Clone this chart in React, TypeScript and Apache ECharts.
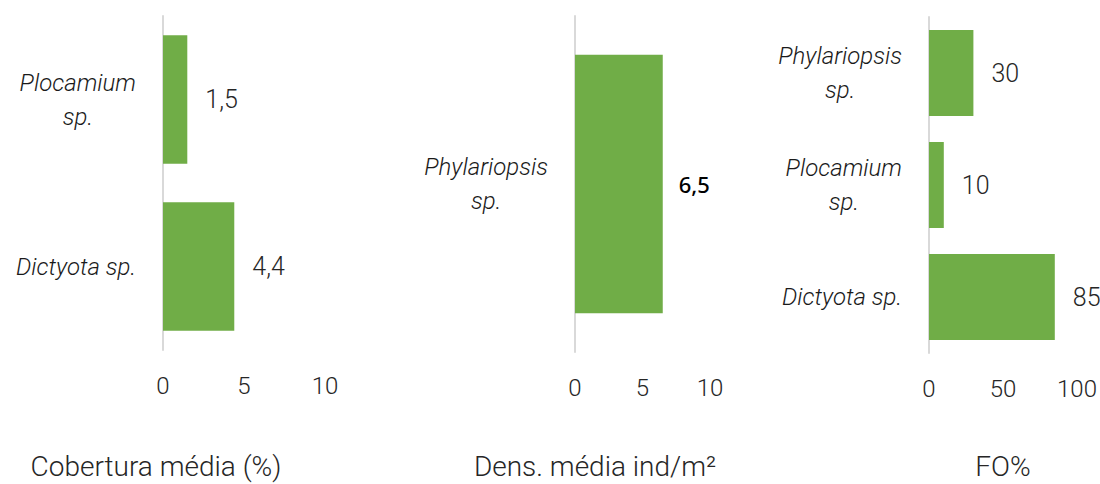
import React, { useEffect, useRef } from "react";
import * as echarts from "echarts";

const coverCategories = ["Plocamium\nsp.", "Dictyota sp."];
const coverValues = [1.5, 4.4];
const densCategories = ["Phylariopsis\nsp."];
const densValues = [6.5];
const foCategories = ["Phylariopsis\nsp.", "Plocamium\nsp.", "Dictyota sp."];
const foValues = [30, 10, 85];
const panelTitles = ["Cobertura média (%)", "Dens. média ind/m²", "FO%"];

const FONT = "Roboto";
const TEXT = "#262626";
const GREEN = "#70AD47";

export default function App() {
  const ref = useRef<HTMLDivElement>(null);
  useEffect(() => {
    if (!ref.current) return;
    const chart = echarts.init(ref.current, null, { renderer: "svg" });
    const grids = [
      { left: 163, top: 16, width: 162, height: 334 },
      { left: 575, top: 16, width: 135, height: 336 },
      { left: 929, top: 17, width: 148, height: 336 },
    ];
    const cats = [coverCategories, densCategories, foCategories];
    const vals = [coverValues, densValues, foValues];
    const maxes = [10, 10, 100];
    const intervals = [5, 5, 50];
    const catFormatter = (v: string) =>
      v.split("\n").map((l) => `{c|${l}}`).join("\n");
    const option: any = {
      animation: false,
      backgroundColor: "#fff",
      grid: grids,
      xAxis: grids.map((_, i) => ({
        type: "value",
        gridIndex: i,
        min: 0,
        max: maxes[i],
        interval: intervals[i],
        splitLine: { show: false },
        axisLine: { show: false },
        axisTick: { show: false },
        axisLabel: {
          margin: 24,
          fontSize: 24,
          fontFamily: FONT,
          fontWeight: 300,
          color: TEXT,
        },
      })),
      yAxis: grids.map((_, i) => ({
        type: "category",
        gridIndex: i,
        inverse: true,
        data: cats[i],
        axisLine: { show: true, lineStyle: { color: "#d9d9d9", width: 2 } },
        axisTick: { show: false },
        axisLabel: {
          margin: 27,
          formatter: catFormatter,
          rich: {
            c: {
              align: "center",
              fontSize: 24,
              lineHeight: 34,
              fontStyle: "italic",
              fontFamily: FONT,
              fontWeight: 300,
              color: "#1a1a1a",
            },
          },
        },
      })),
      series: grids.map((_, i) => ({
        type: "bar",
        xAxisIndex: i,
        yAxisIndex: i,
        data: vals[i],
        barCategoryGap: "23%",
        itemStyle: { color: GREEN },
        label: {
          show: true,
          position: "right",
          distance: i === 1 ? 16 : 18,
          formatter: (p: any) => String(p.value).replace(".", ","),
          fontSize: i === 1 ? 22 : 25,
          fontFamily: i === 1 ? "Noto Sans" : FONT,
          fontWeight: i === 1 ? 500 : 300,
          color: i === 1 ? "#000" : TEXT,
        },
      })),
      graphic: [156, 595, 1003].map((x, i) => ({
        type: "text",
        x,
        y: 466,
        style: {
          text: panelTitles[i],
          fontSize: 28,
          fontFamily: FONT,
          fontWeight: 300,
          fill: TEXT,
          textAlign: "center",
          textVerticalAlign: "middle",
        },
      })),
    };
    chart.setOption(option);
    return () => chart.dispose();
  }, []);
  return (
    <div
      ref={ref}
      style={{ position: "fixed", left: 0, top: 0, width: 1100, height: 484 }}
    />
  );
}
